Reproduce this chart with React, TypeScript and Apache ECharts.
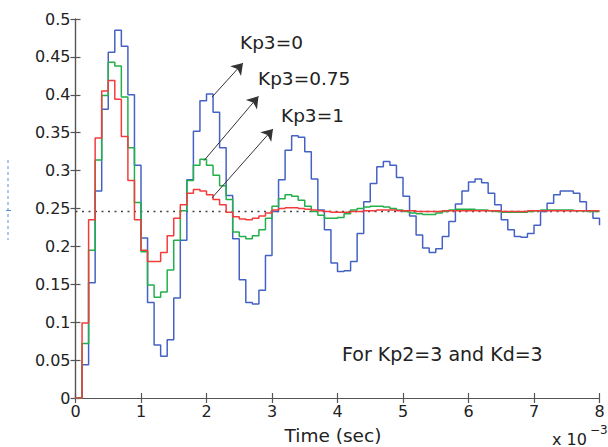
import React, { useEffect, useRef } from "react";
import * as echarts from "echarts";

// Time samples (x 10^-3 sec)
const times = [
  0, 0.1, 0.2, 0.3, 0.4, 0.5, 0.6, 0.7, 0.8, 0.9,
  1, 1.1, 1.2, 1.3, 1.4, 1.5, 1.6, 1.7, 1.8, 1.9,
  2, 2.1, 2.2, 2.3, 2.4, 2.5, 2.6, 2.7, 2.8, 2.9,
  3, 3.1, 3.2, 3.3, 3.4, 3.5, 3.6, 3.7, 3.8, 3.9,
  4, 4.1, 4.2, 4.3, 4.4, 4.5, 4.6, 4.7, 4.8, 4.9,
  5, 5.1, 5.2, 5.3, 5.4, 5.5, 5.6, 5.7, 5.8, 5.9,
  6, 6.1, 6.2, 6.3, 6.4, 6.5, 6.6, 6.7, 6.8, 6.9,
  7, 7.1, 7.2, 7.3, 7.4, 7.5, 7.6, 7.7, 7.8, 7.9,
  8,
];

// Kp3 = 0 (blue)
const kp3Zero = [
  0, 0.044, 0.152, 0.273, 0.381, 0.456, 0.485, 0.464, 0.4, 0.307,
  0.211, 0.126, 0.07, 0.055, 0.077, 0.132, 0.208, 0.288, 0.352, 0.392,
  0.401, 0.377, 0.33, 0.267, 0.21, 0.156, 0.126, 0.124, 0.142, 0.188,
  0.246, 0.288, 0.327, 0.346, 0.344, 0.325, 0.289, 0.248, 0.222, 0.178,
  0.167, 0.168, 0.18, 0.217, 0.259, 0.283, 0.305, 0.312, 0.307, 0.291,
  0.266, 0.24, 0.215, 0.198, 0.192, 0.197, 0.213, 0.233, 0.256, 0.273,
  0.285, 0.289, 0.284, 0.27, 0.255, 0.235, 0.222, 0.213, 0.212, 0.217,
  0.228, 0.246, 0.257, 0.268, 0.273, 0.273, 0.27, 0.259, 0.247, 0.237,
  0.228,
];

// Kp3 = 0.75 (green)
const kp3Mid = [
  0, 0.072, 0.195, 0.314, 0.399, 0.443, 0.438, 0.397, 0.33, 0.258,
  0.193, 0.149, 0.133, 0.14, 0.169, 0.208, 0.247, 0.287, 0.307, 0.315,
  0.307, 0.294, 0.28, 0.262, 0.219, 0.213, 0.21, 0.214, 0.222, 0.237,
  0.253, 0.263, 0.268, 0.266, 0.261, 0.253, 0.246, 0.241, 0.237, 0.237,
  0.238, 0.243, 0.248, 0.25, 0.252, 0.253, 0.253, 0.252, 0.25, 0.248,
  0.246, 0.244, 0.243, 0.242, 0.242, 0.244, 0.246, 0.248, 0.249, 0.249,
  0.249, 0.248, 0.248, 0.247, 0.246, 0.245, 0.245, 0.245, 0.245, 0.246,
  0.247, 0.248, 0.248, 0.248, 0.248, 0.248, 0.247, 0.247, 0.246, 0.246,
  0.246,
];

// Kp3 = 1 (red)
const kp3One = [
  0, 0.099, 0.235, 0.343, 0.405, 0.419, 0.394, 0.345, 0.287, 0.235,
  0.195, 0.18, 0.18, 0.192, 0.214, 0.237, 0.255, 0.27, 0.275, 0.273,
  0.268, 0.262, 0.255, 0.245, 0.239, 0.236, 0.235, 0.237, 0.24, 0.244,
  0.248, 0.25, 0.251, 0.251, 0.25, 0.249, 0.248, 0.247, 0.246, 0.245,
  0.245, 0.245, 0.246, 0.246, 0.247, 0.247, 0.248, 0.248, 0.248, 0.247,
  0.247, 0.247, 0.246, 0.246, 0.246, 0.246, 0.247, 0.247, 0.247, 0.247,
  0.247, 0.247, 0.247, 0.247, 0.247, 0.246, 0.246, 0.246, 0.246, 0.247,
  0.247, 0.247, 0.247, 0.247, 0.247, 0.247, 0.247, 0.247, 0.247, 0.247,
  0.247,
];

const referenceLevel = [0.246, 0.246];
const referenceTimes = [0, 8];

const seriesNames = ["Kp3=0", "Kp3=0.75", "Kp3=1"];
const noteText = "For Kp2=3 and Kd=3";

const FONT = "DejaVu Sans";
const TEXT = "#222";
const AXIS = "#555";

export default function App() {
  const ref = useRef<HTMLDivElement>(null);

  useEffect(() => {
    if (!ref.current) return;
    const chart = echarts.init(ref.current, undefined, { renderer: "svg" });
    const pair = (vals: number[]) => times.map((t, i) => [t, vals[i]]);

    const axisCommon = {
      axisLine: { show: true, lineStyle: { color: AXIS, width: 1.2 } },
      axisTick: { show: true, inside: true, length: 5, lineStyle: { color: AXIS, width: 1.2 } },
      splitLine: { show: false },
    };

    const arrowLine = (a: number[], b: number[]) => [
      { coord: a },
      { coord: b },
    ];

    chart.setOption({
      animation: false,
      backgroundColor: "#fff",
      grid: { left: 75.5, right: 8.5, top: 19, bottom: 49, containLabel: false },
      xAxis: [
        {
          type: "value",
          min: 0,
          max: 8,
          interval: 1,
          position: "bottom",
          ...axisCommon,
          axisLabel: { show: true, margin: 5, color: TEXT, fontSize: 16, fontFamily: FONT },
        },
        {
          type: "value",
          min: 0,
          max: 8,
          interval: 1,
          position: "top",
          ...axisCommon,
          axisLabel: { show: false },
        },
      ],
      yAxis: [
        {
          type: "value",
          min: 0,
          max: 0.5,
          interval: 0.05,
          position: "left",
          ...axisCommon,
          axisLabel: { show: true, margin: 5, color: TEXT, fontSize: 16, fontFamily: FONT },
        },
        {
          type: "value",
          min: 0,
          max: 0.5,
          interval: 0.05,
          position: "right",
          ...axisCommon,
          axisLabel: { show: false },
        },
      ],
      series: [
        {
          name: "steady",
          type: "line",
          data: referenceTimes.map((t, i) => [t, referenceLevel[i]]),
          symbol: "none",
          silent: true,
          lineStyle: { color: "#444", width: 1.5, type: [2, 4.5] },
          markLine: {
            silent: true,
            symbol: ["none", "arrow"],
            symbolSize: 11,
            label: { show: false },
            lineStyle: { color: "#333", width: 1, type: "solid" },
            data: [
              arrowLine([2.084, 0.397], [2.557, 0.442]),
              arrowLine([1.96, 0.313], [2.794, 0.398]),
              arrowLine([2.084, 0.264], [3.015, 0.355]),
            ],
          },
        },
        {
          name: seriesNames[0],
          type: "line",
          step: "end",
          data: pair(kp3Zero),
          symbol: "none",
          lineStyle: { color: "#4462c4", width: 1.5 },
        },
        {
          name: seriesNames[1],
          type: "line",
          step: "end",
          data: pair(kp3Mid),
          symbol: "none",
          lineStyle: { color: "#22b04a", width: 1.5 },
        },
        {
          name: seriesNames[2],
          type: "line",
          step: "end",
          data: pair(kp3One),
          symbol: "none",
          lineStyle: { color: "#f23c3c", width: 1.5 },
        },
      ],
      graphic: [
        {
          type: "text",
          left: 240,
          top: 33,
          style: { text: seriesNames[0], fill: TEXT, font: `18.5px "${FONT}"` },
        },
        {
          type: "text",
          left: 258,
          top: 69,
          style: { text: seriesNames[1], fill: TEXT, font: `18.5px "${FONT}"` },
        },
        {
          type: "text",
          left: 281,
          top: 106,
          style: { text: seriesNames[2], fill: TEXT, font: `18.5px "${FONT}"` },
        },
        {
          type: "text",
          left: 342,
          top: 344,
          style: { text: noteText, fill: TEXT, font: `19px "${FONT}"` },
        },
        {
          type: "text",
          x: 333,
          y: 435,
          style: {
            text: "Time (sec)",
            fill: TEXT,
            font: `18.5px "${FONT}"`,
            align: "center",
            verticalAlign: "middle",
          },
        },
        {
          type: "text",
          x: 552,
          y: 439,
          style: { text: "x 10", fill: TEXT, font: `16px "${FONT}"`, verticalAlign: "middle" },
        },
        {
          type: "text",
          x: 590,
          y: 430,
          style: { text: "−3", fill: TEXT, font: `12px "${FONT}"`, verticalAlign: "middle" },
        },
        {
          type: "line",
          shape: { x1: 8, y1: 160, x2: 8, y2: 240 },
          style: { stroke: "#5b8fd6", lineWidth: 1, lineDash: [3, 3] },
        },
        {
          type: "line",
          shape: { x1: 6, y1: 210.5, x2: 11, y2: 210.5 },
          style: { stroke: "#5b8fd6", lineWidth: 1 },
        },
      ],
    });

    return () => chart.dispose();
  }, []);

  return (
    <div
      ref={ref}
      style={{ position: "absolute", left: 0, top: 0, width: 608, height: 447 }}
    />
  );
}
